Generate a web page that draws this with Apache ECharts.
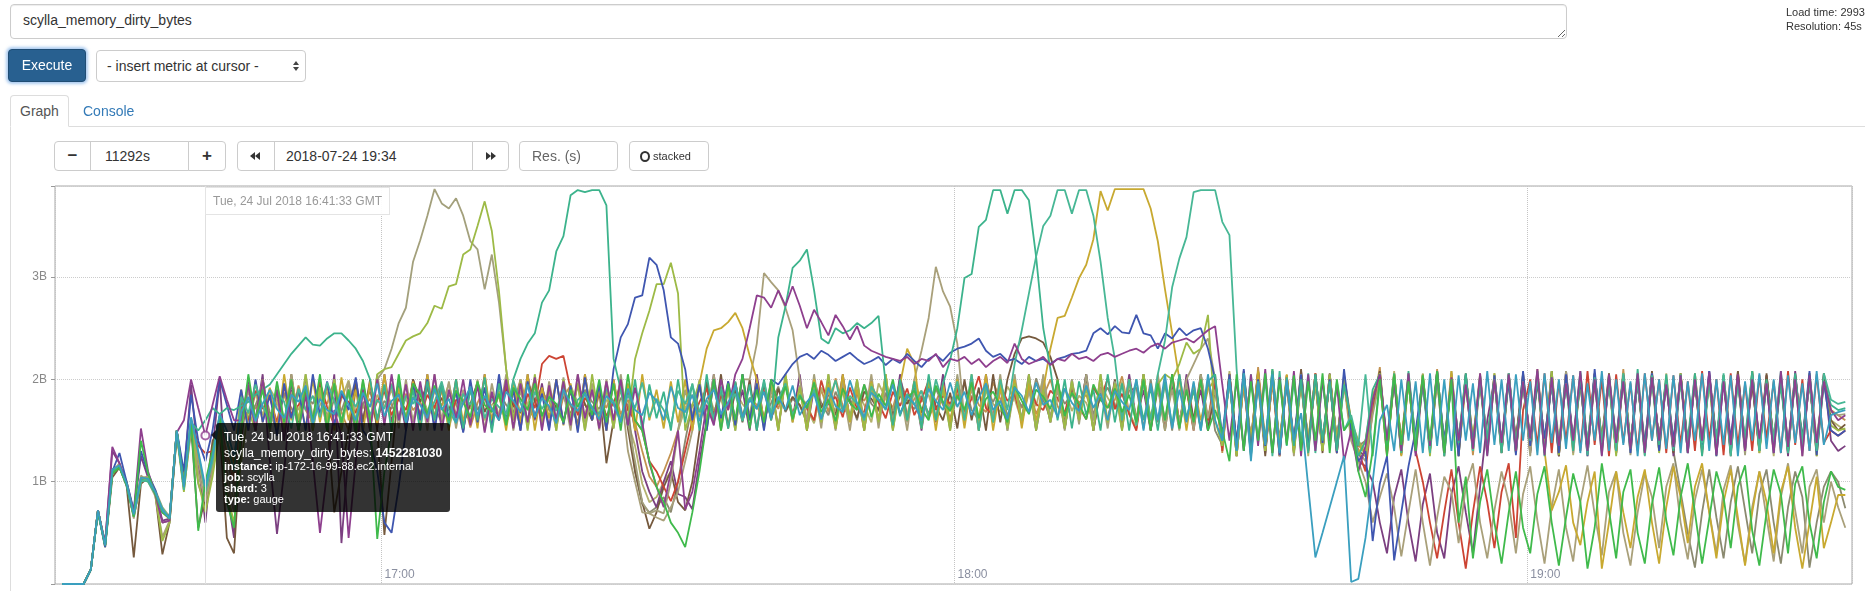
<!DOCTYPE html>
<html>
<head>
<meta charset="utf-8">
<script src="https://cdn.jsdelivr.net/npm/echarts@6/dist/echarts.min.js"></script>
<style>
  html, body { margin:0; padding:0; width:1865px; height:591px; overflow:hidden; background:#fff;
    font-family:"Liberation Sans", Arial, sans-serif; color:#333; font-size:14px; }
  .abs { position:absolute; box-sizing:border-box; }
  #chart { left:0; top:0; width:1865px; height:591px; }
  .expr { left:10px; top:4px; width:1557px; height:35px; border:1px solid #ccc; border-radius:4px;
    padding:7px 12px; font:14px "Liberation Sans", Arial, sans-serif; color:#333; resize:vertical;
    box-shadow:inset 0 1px 1px rgba(0,0,0,.075); outline:none; overflow:hidden; }
  .stats { left:1786px; top:5px; font-size:11px; line-height:14px; white-space:nowrap; color:#333; }
  .exec { left:8px; top:49px; width:78px; height:33px; background:#286090; border:1px solid #204d74;
    border-radius:4px; color:#fff; text-align:center; line-height:31px; font-size:14px;
    box-shadow:0 0 3px 2px rgba(102,160,225,.55); }
  .sel { left:96px; top:50px; width:210px; height:32px; border:1px solid #ccc; border-radius:4px;
    padding-left:10px; line-height:30px; color:#333; background:#fff; }
  .tri { position:absolute; width:0; height:0; }
  .tab { left:10px; top:95px; width:59px; height:32px; border:1px solid #ddd; border-bottom-color:#fff;
    border-radius:4px 4px 0 0; background:#fff; color:#555; line-height:30px; padding-left:9px; z-index:2; }
  .tab2 { left:83px; top:95px; line-height:32px; color:#337ab7; }
  .cell { top:141px; height:30px; border:1px solid #ccc; background:#fff; line-height:28px; color:#333; }
  .btn { text-align:center; font-weight:bold; }
  .xbox { height:28px; border:1px solid #e4e4e4; background:rgba(255,255,255,.92); color:#999;
    font-size:12px; line-height:26px; padding:0 7px; white-space:nowrap; z-index:5; }
  .tip { background:rgba(0,0,0,.8); color:#fff; border-radius:3px; padding:7px 8px; white-space:nowrap; z-index:6; }
  .tip .l1 { font-size:12px; line-height:15px; }
  .tip .l2 { font-size:12px; line-height:16px; }
  .tip .l3 { font-size:11px; line-height:11px; }
</style>
</head>
<body>
<div id="chart" class="abs"></div>

<textarea class="abs expr" spellcheck="false">scylla_memory_dirty_bytes</textarea>
<div class="abs stats">Load time: 2993ms<br>Resolution: 45s</div>
<div class="abs exec">Execute</div>
<div class="abs sel">- insert metric at cursor -
  <span class="tri" style="left:196px;top:10px;border-left:3px solid transparent;border-right:3px solid transparent;border-bottom:4px solid #444"></span>
  <span class="tri" style="left:196px;top:16px;border-left:3px solid transparent;border-right:3px solid transparent;border-top:4px solid #444"></span>
</div>

<div class="abs tab">Graph</div>
<div class="abs tab2">Console</div>
<div class="abs" style="left:69px;top:126px;width:1796px;height:1px;background:#ddd"></div>
<div class="abs" style="left:10px;top:126px;width:1px;height:465px;background:#ddd"></div>

<div class="abs cell btn" style="left:54px;width:37px;border-radius:4px 0 0 4px;font-size:17px">&minus;</div>
<div class="abs cell" style="left:90px;width:99px;padding-left:14px">11292s</div>
<div class="abs cell btn" style="left:188px;width:38px;border-radius:0 4px 4px 0;font-size:17px">+</div>
<div class="abs cell" style="left:237px;width:38px;border-radius:4px 0 0 4px">
  <span class="tri" style="left:12px;top:10px;border-top:4px solid transparent;border-bottom:4px solid transparent;border-right:5px solid #333"></span>
  <span class="tri" style="left:17px;top:10px;border-top:4px solid transparent;border-bottom:4px solid transparent;border-right:5px solid #333"></span>
</div>
<div class="abs cell" style="left:274px;width:199px;padding-left:11px">2018-07-24 19:34</div>
<div class="abs cell" style="left:472px;width:37px;border-radius:0 4px 4px 0">
  <span class="tri" style="left:13px;top:10px;border-top:4px solid transparent;border-bottom:4px solid transparent;border-left:5px solid #333"></span>
  <span class="tri" style="left:18px;top:10px;border-top:4px solid transparent;border-bottom:4px solid transparent;border-left:5px solid #333"></span>
</div>
<div class="abs cell" style="left:519px;width:99px;border-radius:4px;padding-left:12px;color:#666">Res. (s)</div>
<div class="abs cell" style="left:629px;width:80px;border-radius:4px;font-size:11px;padding-left:10px">
  <span style="display:inline-block;width:6px;height:7px;border:2px solid #333;border-radius:50%;vertical-align:-2px;margin-right:3px"></span>stacked
</div>

<div id="xbox" class="abs xbox">Tue, 24 Jul 2018 16:41:33 GMT</div>
<div id="tip" class="abs tip">
  <div class="l1">Tue, 24 Jul 2018 16:41:33 GMT</div>
  <div class="l2">scylla_memory_dirty_bytes: <b>1452281030</b></div>
  <div class="l3"><b>instance:</b> ip-172-16-99-88.ec2.internal</div>
  <div class="l3"><b>job:</b> scylla</div>
  <div class="l3"><b>shard:</b> 3</div>
  <div class="l3"><b>type:</b> gauge</div>
  <span id="arrow" class="tri" style="left:-5px;border-top:5px solid transparent;border-bottom:5px solid transparent;border-right:5px solid rgba(0,0,0,.8)"></span>
</div>

<script>
// samples every 45s from 16:26:33 UTC, values in units of 10 MB (x1e7 bytes)
const T0 = Date.UTC(2018, 6, 24, 16, 26, 33)
const STEP_MS = 45000
const X_MIN = Date.UTC(2018, 6, 24, 16, 25, 48)
const X_MAX = Date.UTC(2018, 6, 24, 19, 34, 0)
const UNIT = 1e7
const Y_MAX = 3.89e9
const HOVER_INDEX = 20
const HOVER_VALUE = 1452281030

const purple = [
  0,0,0,0,14,72,40,134,118,96,70,152,110,88,60,62,148,160,200,172,145,175,203,180,160,
  160,195,150,200,155,190,140,198,150,185,120,50,110,170,145,45,120,190,150,200,155,205,160,195,150,
  198,158,205,150,190,162,200,155,195,148,188,160,200,152,196,158,202,150,194,160,198,155,205,162,190,
  152,198,160,200,155,192,158,118,95,75,110,150,73,90,130,175,155,200,170,205,220,250,282,280,270,
  287,272,291,272,250,268,256,243,263,252,239,252,233,228,225,222,220,218,222,215,220,218,225,212,220,
  218,222,215,220,212,218,222,216,235,220,215,218,222,214,220,218,225,220,222,218,224,226,222,225,228,
  230,226,232,235,230,236,238,240,236,242,248,252,195,140,200,130,205,135,210,128,202,138,208,125,205,
  130,200,140,195,120,150,110,135,180,205,140,198,130,206,125,200,135,208,128,202,140,195,132,206,125,
  200,138,205,130,198,142,210,126,202,135,196,140,208,130,200,125,205,138,198,132,206,128,202,140,195,
  134,204,128,200,140,207,126,198,136,205,130,200,142,196,128,208,134,200,125,204,138,198,170,160,165
]
const blue = [
  0,0,0,0,14,70,36,110,128,100,72,130,108,92,70,66,150,110,185,140,120,150,200,175,150,
  190,150,200,158,185,145,196,162,190,150,205,165,198,155,188,170,202,150,140,110,60,50,95,150,195,
  160,200,150,195,162,188,148,200,158,192,152,205,160,190,150,198,162,186,150,200,156,194,148,202,160,
  195,150,210,241,254,280,282,319,312,287,241,235,210,160,195,150,200,162,198,155,205,160,196,150,200,
  195,205,215,222,225,220,228,224,218,222,226,220,215,218,222,214,220,216,225,218,212,220,224,218,226,
  230,232,235,240,228,222,225,218,220,215,222,218,220,215,220,222,225,226,228,245,250,244,252,246,245,
  263,245,243,230,245,240,250,243,248,250,230,200,145,205,138,210,130,200,135,208,126,198,140,205,132,
  205,138,200,128,210,150,120,130,42,98,125,23,70,115,150,200,132,206,140,198,125,205,136,200,130,
  204,140,198,126,208,135,200,142,196,128,205,138,200,125,210,132,198,140,204,128,200,136,206,130,198,
  140,204,128,200,136,208,125,198,142,202,130,206,138,196,128,204,135,200,140,208,126,198,150,145,150
]
const tealGreen = [
  0,0,0,0,14,72,38,110,114,97,66,102,100,88,72,64,148,96,158,150,160,172,166,172,170,
  174,178,185,190,195,205,215,225,233,241,234,233,240,245,245,238,230,218,200,160,195,150,200,158,190,
  150,198,160,194,155,200,152,190,160,202,148,196,158,200,220,235,245,275,287,325,340,380,385,383,385,
  385,370,220,190,155,200,150,195,162,188,150,200,158,196,150,205,160,190,152,198,160,195,150,200,160,
  241,271,309,316,327,287,240,235,250,245,248,255,250,255,262,195,155,200,160,198,152,205,160,196,219,
  250,299,303,349,356,385,385,362,385,385,375,320,250,210,160,200,152,198,165,190,150,205,158,196,150,
  200,160,192,150,198,155,205,162,190,150,198,205,140,200,130,206,125,198,140,210,130,202,135,200,128,
  205,140,198,130,195,160,125,140,190,205,135,200,128,208,140,196,132,204,125,200,138,206,130,198,142,
  200,128,205,135,198,140,208,125,202,136,196,130,206,138,200,126,204,140,198,132,210,128,200,136,205,
  130,198,140,206,125,200,136,204,128,198,142,208,130,200,135,196,128,206,140,200,132,198,175,170,172
]
const seaGreen = [
  0,0,0,0,14,72,38,108,115,98,68,100,102,90,74,64,150,92,162,128,90,120,164,140,110,
  183,167,195,174,160,188,178,152,191,170,184,163,197,179,158,186,173,192,165,180,171,195,160,184,176,
  190,164,178,198,170,157,186,175,193,162,181,173,166,199,177,160,188,171,183,169,194,158,180,187,172,
  166,191,178,160,185,172,197,163,181,170,155,189,176,195,168,180,162,193,174,186,159,182,171,198,167,
  180,196,165,185,172,190,161,178,199,168,184,176,160,193,181,170,197,164,186,175,189,163,200,177,171,
  198,160,205,150,196,158,200,170,215,248,284,320,350,360,385,385,362,385,385,360,315,260,220,160,200,
  155,198,160,205,238,290,318,339,383,385,385,385,354,341,210,130,205,138,200,125,208,135,198,140,206,
  128,200,136,198,150,165,135,205,125,198,140,206,130,200,138,195,128,208,135,200,142,196,130,204,126,
  200,138,206,130,198,142,204,128,200,135,196,140,208,126,202,138,198,130,206,136,200,125,204,140,196,
  132,205,128,200,138,198,142,206,125,200,136,204,130,196,140,208,128,200,135,198,130,206,180,176,178
]
const khaki = [
  0,0,0,0,14,71,38,110,116,100,70,104,105,92,75,66,148,100,158,120,88,118,160,120,95,
  150,190,155,200,148,195,160,188,150,205,162,192,150,200,158,190,152,198,160,200,210,230,255,270,315,
  336,360,386,372,367,377,360,335,327,288,322,275,210,160,200,152,195,160,188,150,202,158,196,150,190,
  160,198,152,205,158,120,80,69,72,69,100,150,190,160,200,152,196,158,190,150,205,162,198,155,192,
  150,200,158,194,152,205,160,190,150,198,162,200,155,192,160,205,150,196,158,190,152,200,160,195,150,
  205,158,192,150,200,162,196,150,205,158,190,152,198,160,194,150,200,156,205,160,192,152,198,160,200,
  155,205,160,192,150,200,158,196,150,205,162,190,135,200,128,205,140,198,130,208,125,200,138,196,130,
  205,140,198,128,200,145,130,120,165,200,135,206,128,198,140,204,130,200,125,208,138,196,132,202,140,
  198,130,206,136,200,125,204,140,196,132,208,128,200,138,205,130,198,142,204,126,200,136,206,130,198,
  140,200,128,206,135,198,130,204,140,200,126,208,136,196,132,202,138,200,125,206,140,198,168,165,166
]
const yellowGreen = [
  0,0,0,0,14,72,36,108,114,98,66,100,104,88,42,60,146,90,155,100,70,105,150,90,60,
  120,170,150,200,158,190,152,198,160,205,150,192,158,200,150,188,160,196,155,205,210,212,225,238,242,
  245,255,272,269,291,293,322,327,350,374,345,286,210,160,198,150,205,158,192,150,200,162,196,150,205,
  160,190,152,198,160,220,245,267,293,293,314,284,150,175,198,150,200,158,190,150,205,160,195,152,198,
  150,205,160,192,150,198,158,205,152,190,160,200,150,196,158,205,150,192,160,198,152,200,160,190,150,
  198,160,205,150,192,158,200,152,196,160,205,150,190,158,200,152,198,160,192,150,205,158,196,150,200,
  158,205,160,195,205,200,215,236,225,230,263,160,135,200,125,205,138,198,130,210,135,200,128,205,140,
  196,130,205,138,200,160,140,125,180,206,128,200,140,198,132,205,125,208,136,196,130,204,142,198,128,
  206,135,200,128,198,140,204,132,208,126,200,138,196,130,205,140,198,125,206,135,200,132,204,128,198,
  136,206,130,200,140,198,125,204,138,200,132,208,128,196,140,202,130,200,136,206,125,198,155,150,152
]
const gold = [
  0,0,0,0,14,72,38,112,116,98,68,104,103,90,70,64,150,95,160,125,92,120,160,140,118,
  190,150,198,158,192,150,205,160,188,152,200,158,195,150,202,160,190,148,198,156,205,150,192,160,198,
  152,205,160,190,150,200,158,196,152,205,160,188,150,198,158,205,150,192,162,200,155,196,150,205,160,
  192,150,200,158,196,150,205,160,190,152,198,158,200,150,196,230,248,250,256,265,250,223,200,160,198,
  150,205,158,192,150,200,160,196,152,205,158,190,150,198,160,205,152,195,230,215,160,200,150,196,158,
  200,152,198,160,205,150,192,158,200,152,196,160,190,230,260,262,280,299,312,337,384,365,386,386,386,
  386,386,367,335,288,245,200,150,196,160,190,200,135,205,125,198,140,208,130,200,135,205,128,198,140,
  205,130,200,138,196,150,128,140,185,200,132,206,125,198,140,204,130,200,136,208,128,196,140,202,130,
  198,136,205,128,200,142,204,130,72,90,116,60,38,80,110,15,60,110,70,35,85,112,60,20,75,
  115,85,40,95,118,70,25,80,112,65,18,70,110,80,30,90,115,55,15,60,105,35,60,87,87
]
const tan = [
  0,0,0,0,14,72,40,110,118,98,64,106,100,86,46,62,146,98,152,110,80,110,155,100,70,
  160,195,150,200,158,190,148,205,160,196,150,188,162,200,152,198,158,190,150,205,160,196,152,200,158,
  192,150,205,160,198,152,190,158,200,150,196,162,205,150,190,158,200,152,198,160,188,150,205,158,196,
  150,200,158,192,130,100,70,69,65,62,75,90,120,150,196,160,205,150,190,158,200,200,235,304,295,
  287,270,248,200,160,196,152,205,158,190,150,198,160,205,152,196,160,190,150,200,228,260,310,286,271,
  235,160,200,152,196,158,205,150,192,160,198,150,205,158,190,152,200,160,196,150,205,158,192,150,200,
  160,196,152,205,158,190,150,200,215,230,240,200,140,205,128,198,136,208,130,200,140,196,125,205,138,
  200,130,205,140,196,140,120,100,60,85,108,75,27,70,112,60,18,65,105,90,40,95,118,60,25,
  72,110,80,30,88,115,62,20,75,112,55,22,80,116,68,28,90,110,50,18,70,108,85,35,95,
  118,60,24,82,112,70,30,92,116,58,20,75,110,65,22,85,118,72,30,95,112,60,100,75,55
]
const brown = [
  0,0,0,0,14,72,36,104,114,96,26,98,104,88,29,60,145,100,155,55,85,140,150,45,30,
  140,195,150,200,160,188,150,205,158,190,152,198,160,70,110,150,196,158,200,150,48,120,195,160,200,
  178,195,163,182,170,189,156,176,197,168,185,160,192,174,167,198,179,161,187,172,184,165,195,176,160,
  190,118,160,200,152,110,80,54,70,95,110,80,72,100,150,198,160,205,152,190,158,200,150,196,160,
  191,169,183,175,160,197,172,186,165,193,178,162,188,181,170,199,164,184,176,190,167,195,174,160,187,
  152,200,160,192,150,205,158,200,225,240,242,240,236,222,200,152,196,160,205,150,190,158,200,152,198,
  160,205,150,192,158,200,152,196,160,205,150,190,140,200,128,208,136,196,125,205,140,200,130,210,135,
  198,128,206,140,200,155,130,125,175,208,135,200,126,204,140,198,130,208,136,200,125,206,140,196,132,
  204,128,200,140,206,130,198,136,208,125,200,138,204,130,196,142,206,128,200,136,198,130,208,140,200,
  128,206,136,198,130,204,140,200,125,208,135,196,130,206,138,200,128,204,142,198,130,206,160,150,156
]
const red = [
  0,0,0,0,14,72,38,110,116,98,68,102,103,90,72,64,150,95,158,135,128,130,160,120,100,
  176,160,189,171,182,158,193,166,175,186,162,197,173,155,184,178,167,191,160,179,188,165,181,170,194,
  163,185,172,196,158,180,176,191,161,183,170,166,194,178,157,186,172,215,223,220,223,190,165,182,171,
  187,164,178,193,170,160,150,120,110,95,81,100,130,160,178,191,166,184,175,197,160,181,172,189,163,
  178,194,166,185,172,160,199,175,183,163,192,171,168,196,177,162,188,174,191,165,180,199,170,184,176,
  190,168,181,203,172,165,194,179,186,160,198,176,170,189,182,167,195,173,161,192,180,201,171,186,166,
  150,200,160,196,152,205,158,190,150,200,160,198,130,205,138,196,128,208,136,200,125,204,140,198,130,
  206,135,200,128,198,150,130,110,170,200,125,206,138,198,130,100,60,25,70,112,60,15,70,115,80,
  35,90,118,45,170,200,135,206,128,198,140,204,130,208,136,200,125,205,138,196,130,206,140,200,128,
  204,136,198,130,208,140,200,126,206,135,196,130,204,142,198,128,208,136,200,130,205,138,150,145,150
]
const green = [
  0,0,0,0,14,70,38,108,114,96,66,140,108,88,70,64,150,98,160,52,100,130,165,80,55,
  150,205,160,190,152,198,158,200,150,192,160,205,150,196,158,190,150,200,160,44,110,150,205,158,196,
  185,166,194,172,160,189,178,163,198,175,168,186,155,192,181,170,196,164,183,176,158,190,173,187,165,
  200,158,196,150,205,160,150,120,95,80,60,50,36,70,110,158,200,150,196,160,205,152,190,158,200,
  176,193,161,184,172,197,168,180,159,191,177,170,195,163,186,174,200,166,182,189,171,160,194,178,169,
  184,170,197,162,181,188,174,158,193,179,166,190,183,171,199,164,187,176,161,195,180,172,191,168,185,
  158,200,150,196,160,205,152,190,158,200,150,170,150,120,205,130,198,140,206,128,200,136,204,130,198,
  140,206,128,200,150,160,110,85,130,200,125,205,136,198,130,204,140,208,128,200,60,105,25,80,112,
  60,20,70,110,55,30,88,115,60,18,65,108,80,15,55,118,72,25,90,112,50,20,78,114,62,
  28,85,118,70,20,64,110,85,35,95,116,52,18,70,112,88,30,98,115,60,25,80,110,95,92
]
const cyan = [
  0,0,0,0,14,72,38,112,116,98,68,104,103,90,72,64,150,95,163,130,95,125,166,150,125,
  168,183,159,176,190,171,162,185,178,194,156,181,170,166,189,175,160,187,173,196,164,179,185,158,182,
  175,162,191,170,181,158,177,193,165,184,171,160,188,179,168,195,163,182,174,157,190,176,169,186,172,
  161,184,176,158,191,170,165,187,179,160,193,172,168,185,159,181,190,166,177,194,163,180,171,188,162,
  183,170,194,165,178,186,161,192,174,168,199,177,163,187,180,171,195,166,184,176,160,191,179,170,197,
  173,188,165,182,196,170,179,161,192,184,168,197,175,180,163,191,177,169,194,172,186,160,189,178,170,
  200,150,196,160,205,152,190,158,198,150,205,160,140,200,130,206,120,198,136,205,128,200,140,167,95,
  26,50,75,100,125,2,5,45,100,160,175,130,200,140,198,128,206,135,200,130,204,140,196,128,208,
  136,200,130,205,140,198,126,206,138,200,132,204,128,196,140,208,130,200,136,198,125,206,140,200,132,
  204,128,198,140,206,130,200,136,204,125,198,140,206,132,200,128,204,138,196,130,208,136,165,168,170
]
const grayOlive = [
  0,0,0,0,14,72,38,108,114,98,66,100,102,90,60,62,148,92,150,98,76,110,150,95,50,
  180,162,175,193,168,150,187,172,160,184,176,197,158,181,169,190,145,176,188,163,179,171,195,154,183,
  166,191,173,158,185,177,149,196,170,182,161,188,175,167,199,156,180,192,170,163,187,174,158,190,178,
  171,189,160,182,175,110,78,70,75,85,70,100,140,176,168,192,158,183,174,196,165,180,189,162,177,
  193,168,181,174,158,199,177,165,188,171,182,160,195,176,169,187,163,200,179,171,184,166,191,175,162,
  182,196,170,160,189,178,193,164,185,174,168,201,180,162,191,176,186,170,197,166,181,192,175,164,189,
  192,152,200,158,196,150,205,160,190,152,200,150,136,205,125,198,140,208,130,200,136,196,128,205,140,
  198,130,204,138,200,150,135,140,175,206,128,200,140,198,132,205,136,200,125,206,140,198,130,204,138,
  200,128,206,136,198,130,204,140,196,125,208,136,200,130,205,140,198,128,206,135,200,130,204,140,198,
  130,90,50,16,70,112,65,25,80,115,72,30,88,112,60,20,75,110,85,16,60,95,110,100,74
]
const lightOlive = [
  0,0,0,0,14,72,38,110,116,100,70,104,103,90,72,64,150,95,156,110,82,118,158,110,80,
  172,158,186,165,191,179,147,183,170,194,162,175,188,156,181,199,168,177,153,185,173,190,164,182,159,
  188,170,165,193,152,179,186,171,198,160,175,183,157,190,168,176,201,163,184,172,158,194,177,166,189,
  161,180,174,197,158,135,98,80,85,100,110,150,172,185,163,194,170,181,156,188,176,167,195,160,184,
  175,198,166,183,171,157,192,180,169,203,162,187,175,158,196,181,170,189,164,199,178,185,160,193,174,
  190,171,184,162,199,176,168,193,181,159,187,174,202,165,180,191,169,184,177,160,195,182,171,198,166,
  152,205,160,196,150,200,158,192,152,205,160,198,130,208,136,200,125,206,140,198,130,204,136,200,125,
  206,140,198,130,204,155,140,130,180,200,136,208,128,198,140,206,130,200,136,204,125,198,140,206,132,
  200,138,204,128,206,136,198,130,208,140,200,126,204,136,198,130,206,140,200,128,204,136,198,130,206,
  136,200,130,206,140,198,128,204,136,200,130,208,140,198,125,204,136,200,130,206,140,198,160,155,150
]
const darkPurple = [
  0,0,0,0,14,72,40,130,118,98,70,125,104,88,62,64,150,105,195,120,60,130,200,90,45,
  150,198,160,205,120,49,110,190,150,200,158,192,150,205,40,130,200,160,196,152,205,158,190,150,200,
  160,205,152,196,158,200,150,192,160,205,152,198,158,190,150,205,160,196,152,200,158,190,152,205,160,
  196,150,200,158,190,150,110,90,75,100,120,88,85,73,120,160,205,152,198,160,190,150,205,158,196,
  152,200,160,205,150,192,158,198,152,205,160,190,150,200,158,196,152,205,160,192,150,198,158,205,152,
  196,160,200,150,205,158,192,152,198,160,205,150,190,158,200,152,196,160,205,150,192,158,198,152,205,
  160,190,150,200,158,196,152,205,160,190,150,200,135,205,125,198,140,206,128,200,138,196,130,208,136,
  200,130,205,140,196,150,120,115,100,60,30,85,112,60,22,78,108,50,25,88,115,70,30,95,160,
  200,132,206,140,198,128,204,136,200,125,208,140,196,130,206,138,200,128,204,136,198,130,206,140,200,
  125,204,136,198,130,208,140,200,128,206,136,198,130,204,140,200,125,208,136,198,130,205,140,130,135
]
const orange = [
  0,0,0,0,14,72,38,110,116,98,66,102,103,90,70,64,150,95,160,120,90,122,160,128,105,
  165,182,171,190,160,178,185,162,194,170,158,183,176,199,168,150,188,172,181,157,192,175,163,186,170,
  178,160,189,174,196,165,181,153,177,192,169,184,158,175,200,171,162,187,179,155,183,194,168,176,161,
  185,172,193,166,180,158,130,105,95,110,128,150,178,166,191,173,160,186,170,197,163,182,175,158,189,
  171,195,164,182,176,158,190,168,201,174,163,186,179,193,160,184,172,198,166,181,189,162,178,195,170,
  186,163,192,175,168,197,181,159,188,172,194,166,183,200,174,161,190,177,185,164,196,172,180,203,168,
  152,200,160,196,150,205,158,192,152,200,160,205,128,206,136,198,130,212,140,200,125,204,138,198,130,
  206,140,200,128,204,160,135,130,170,212,130,200,140,206,128,198,136,210,130,200,140,204,126,198,138,
  206,130,200,142,198,128,210,136,200,130,204,140,198,125,206,136,200,132,210,138,198,126,204,140,200,
  130,206,138,198,126,204,140,200,132,208,136,198,128,204,140,200,130,206,136,198,125,204,170,165,160
]

// draw order: first is at the bottom
const lines = [
  ['shard 7', orange, '#c39250'],
  ['shard 5', lightOlive, '#b4b26e'],
  ['shard 6', grayOlive, '#8b8a70'],
  ['shard 1', darkPurple, '#7b3f80'],
  ['shard 4', brown, '#75593d'],
  ['shard 2', red, '#cc4433'],
  ['shard 0', tan, '#a9a07a'],
  ['shard 8', khaki, '#a3a07c'],
  ['shard 9', gold, '#c8a930'],
  ['shard 10', yellowGreen, '#9dba46'],
  ['shard 11', blue, '#3f56b0'],
  ['shard 12', tealGreen, '#3cb38c'],
  ['shard 13', seaGreen, '#47b795'],
  ['shard 3', purple, '#8e3f8e'],
  ['shard 14', green, '#3fba4b'],
  ['shard 15', cyan, '#3a9fbf']
]
const hoverTime = T0 + HOVER_INDEX * STEP_MS

const pad2 = n => String(n).padStart(2, '0')
const chart = echarts.init(document.getElementById('chart'))

const series = lines.map(([name, values, color]) => ({
  name,
  type: 'line',
  data: values.map((v, i) => [T0 + i * STEP_MS, v * UNIT]),
  showSymbol: false,
  symbol: 'none',
  lineStyle: { width: 1.8, color },
  itemStyle: { color },
  silent: true,
  z: 3
}))
// hover guide line
series[0].markLine = {
  silent: true,
  symbol: ['none', 'none'],
  label: { show: false },
  lineStyle: { color: '#e0e0e0', type: 'solid', width: 1 },
  data: [{ xAxis: hoverTime }]
}
series.push({
  type: 'scatter',
  data: [[hoverTime, HOVER_VALUE]],
  symbol: 'circle',
  symbolSize: 8,
  itemStyle: { color: '#fff', borderColor: '#8e3f8e', borderWidth: 2 },
  silent: true,
  z: 10
})

chart.setOption({
  animation: false,
  backgroundColor: '#fff',
  grid: { left: 55, right: 13, top: 186, bottom: 7, show: true, borderColor: '#a8a8a8', borderWidth: 1, containLabel: false },
  xAxis: {
    type: 'time',
    min: X_MIN,
    max: X_MAX,
    minInterval: 3600 * 1000,
    maxInterval: 3600 * 1000,
    axisLine: { show: false },
    axisTick: { show: false },
    splitLine: { show: true, lineStyle: { color: '#c4c4c4', type: 'dotted' } },
    axisLabel: {
      inside: true,
      align: 'left',
      margin: 3,
      padding: [0, 0, 0, 3],
      color: '#8a8fa0',
      fontSize: 12,
      fontFamily: 'Liberation Sans',
      showMinLabel: false,
      showMaxLabel: false,
      formatter: v => { const d = new Date(v); return pad2(d.getUTCHours()) + ':' + pad2(d.getUTCMinutes()) }
    }
  },
  yAxis: {
    type: 'value',
    min: 0,
    max: Y_MAX,
    interval: 1e9,
    axisLine: { show: false },
    axisTick: { show: true, length: 4, lineStyle: { color: '#999' } },
    axisLabel: {
      color: '#888',
      fontSize: 12,
      margin: 8,
      fontFamily: 'Liberation Sans',
      formatter: v => (v > 0 && v % 1e9 === 0) ? (v / 1e9) + 'B' : ''
    },
    splitLine: { show: true, lineStyle: { color: '#cccccc', type: 'dotted' } }
  },
  series
})

// place hover detail boxes next to the hovered point
const [px, py] = chart.convertToPixel({ gridIndex: 0 }, [hoverTime, HOVER_VALUE])
const xbox = document.getElementById('xbox')
xbox.style.left = Math.round(px) + 'px'
xbox.style.top = '187px'
const tip = document.getElementById('tip')
const tipTop = Math.round(py) - 12
tip.style.left = Math.round(px) + 11 + 'px'
tip.style.top = tipTop + 'px'
document.getElementById('arrow').style.top = (Math.round(py) - tipTop - 5) + 'px'
</script>
</body>
</html>
